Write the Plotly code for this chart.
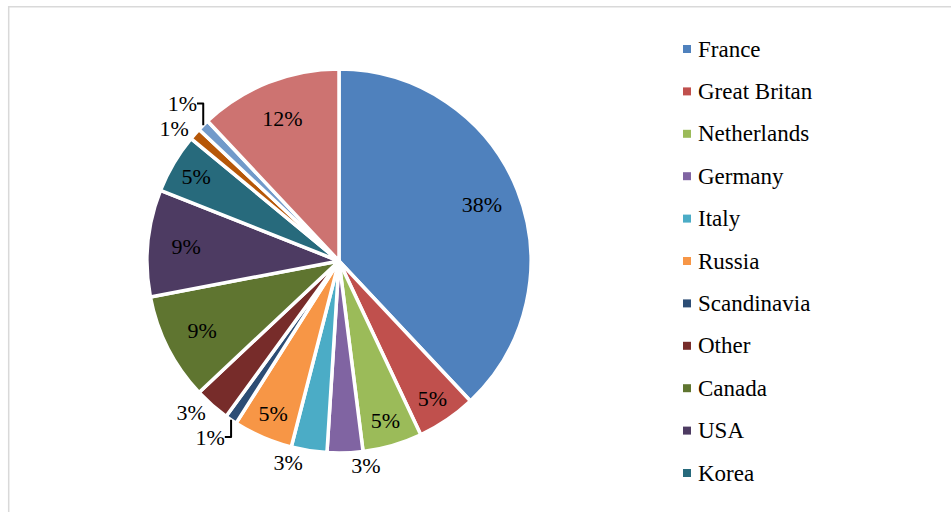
import plotly.graph_objects as go

W, H = 951, 512

countries = ["France", "Great Britan", "Netherlands", "Germany", "Italy", "Russia",
             "Scandinavia", "Other", "Canada", "USA", "Korea", "Japan", "China", "Australia"]
shares = [38, 5, 5, 3, 3, 5, 1, 3, 9, 9, 5, 1, 1, 12]
colors = ["#4F81BD", "#C0504D", "#9BBB59", "#8064A2", "#4BACC6", "#F79646",
          "#2C4D75", "#772C2A", "#5F7530", "#4D3B62", "#276A7C", "#B65708",
          "#729ACA", "#CD7371"]
text_pos = ["inside", "inside", "inside", "outside", "outside", "inside",
            "outside", "outside", "inside", "inside", "inside", "outside",
            "outside", "inside"]
legend_shown = 11  # entries visible in the cropped legend

FONT = "Liberation Serif"


def px(x):
    return x / W


def py(y):
    return 1 - y / H


dom = dict(x=[px(147), px(531)], y=[py(453), py(69)])

fig = go.Figure()
# coloured slices
fig.add_trace(go.Pie(
    labels=countries, values=shares, sort=False, direction="clockwise", rotation=0,
    marker=dict(colors=colors, line=dict(color="white", width=3.5)),
    textinfo="none", domain=dom, showlegend=False, hoverinfo="label+percent",
))
# transparent ring carrying the data labels (places inside labels near the rim)
fig.add_trace(go.Pie(
    labels=countries, values=shares, sort=False, direction="clockwise", rotation=0,
    hole=0.6,
    marker=dict(colors=["rgba(0,0,0,0)"] * len(shares), line=dict(width=0)),
    texttemplate="%{percent:.0%}", textposition=text_pos,
    insidetextorientation="horizontal",
    textfont=dict(family=FONT, size=22, color="black"),
    outsidetextfont=dict(family=FONT, size=22, color="black"),
    insidetextfont=dict(family=FONT, size=22, color="black"),
    domain=dom, showlegend=False, hoverinfo="skip",
))

shapes = [dict(type="rect", xref="paper", yref="paper",
               x0=px(8.7), x1=px(W + 40), y0=py(H + 40), y1=py(6.7),
               line=dict(color="#D9D9D9", width=1.5), fillcolor="rgba(0,0,0,0)",
               layer="below")]
annotations = []
for i in range(legend_shown):
    yc = 49 + i * 42.4
    shapes.append(dict(type="rect", xref="paper", yref="paper",
                       x0=px(683), x1=px(691), y0=py(yc + 4), y1=py(yc - 4),
                       line=dict(width=0), fillcolor=colors[i]))
    annotations.append(dict(xref="paper", yref="paper", x=px(696), y=py(yc),
                            xanchor="left", yanchor="middle", showarrow=False,
                            text=countries[i],
                            font=dict(family=FONT, size=23, color="black")))

fig.update_layout(
    width=W, height=H,
    margin=dict(l=0, r=0, t=0, b=0),
    paper_bgcolor="white",
    plot_bgcolor="white",
    shapes=shapes,
    annotations=annotations,
    showlegend=False,
    font=dict(family=FONT),
)

fig.write_html("out.html",
               config={"displayModeBar": False},
               post_script="document.body.style.margin='0';document.body.style.overflow='hidden';")
